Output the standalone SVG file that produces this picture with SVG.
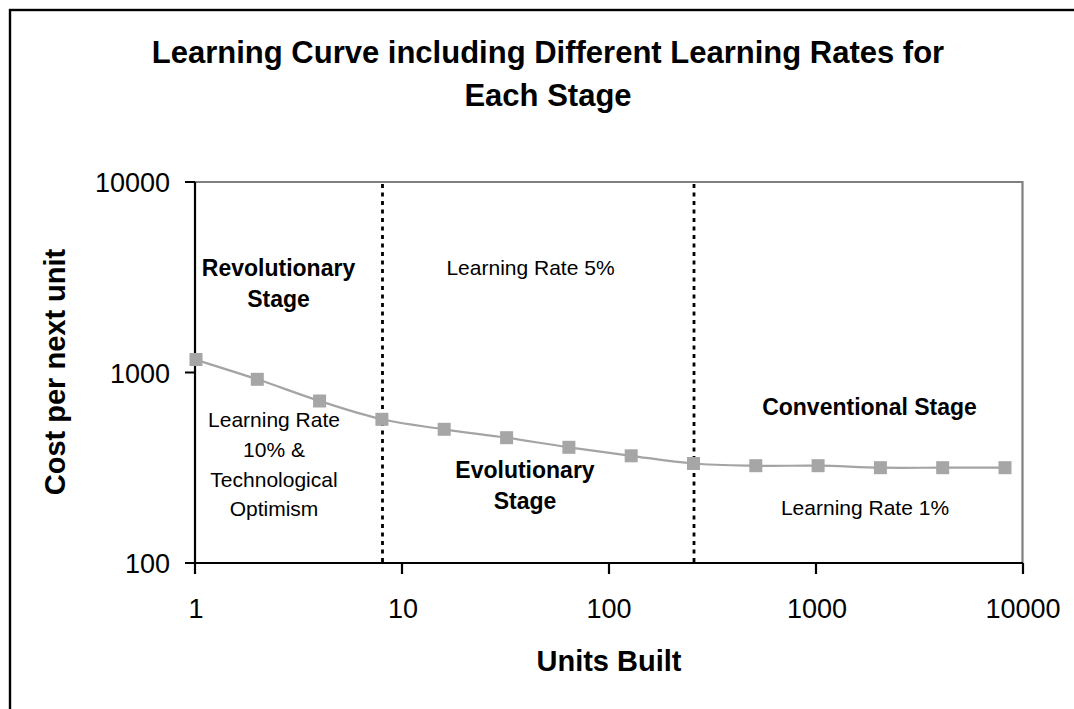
<svg xmlns="http://www.w3.org/2000/svg" width="1074" height="709" viewBox="0 0 1074 709">
  <style>
    text { font-family: "Liberation Sans", Arial, sans-serif; fill: #000; }
    .title { font-size: 31px; font-weight: bold; text-anchor: middle; }
    .axt { font-size: 29px; font-weight: bold; text-anchor: middle; }
    .tick { font-size: 27px; }
    .xt { text-anchor: middle; }
    .yt { text-anchor: end; }
    .stage { font-size: 23px; font-weight: bold; text-anchor: middle; }
    .note { font-size: 21px; text-anchor: middle; }
    .axis { stroke: #000; stroke-width: 2.2; fill: none; }
    .frame { stroke: #808080; stroke-width: 2.2; fill: none; }
    .divider { stroke: #000; stroke-width: 2.8; stroke-dasharray: 4 4.5; fill: none; }
    .series { stroke: #a4a4a4; stroke-width: 2.2; fill: none; }
    .mk { fill: #a6a6a6; }
  </style>
  <defs>
    <rect id="marker" x="-6.5" y="-6.5" width="13" height="13" class="mk"/>
  </defs>
  <rect x="0" y="0" width="1074" height="709" fill="#fff"/>
  <rect id="chart-border" x="10" y="10" width="1080" height="720" fill="#fff" stroke="#000" stroke-width="2.4"/>

  <g id="title">
    <text class="title" x="548" y="63">Learning Curve including Different Learning Rates for</text>
    <text class="title" x="548" y="106">Each Stage</text>
  </g>

  <g id="plot-area">
    <rect x="195" y="182" width="827.5" height="381" fill="#fff"/>
    <path class="frame" d="M195,182 H1022.5 V563"/>
  </g>

  <g id="dividers">
    <line class="divider" x1="382.5" y1="184" x2="382.5" y2="563"/>
    <line class="divider" x1="694" y1="184" x2="694" y2="563"/>
  </g>

  <g id="axes">
    <path class="axis" d="M195,182 V563 H1023"/>
    <path class="axis" d="M185,182 H195 M185,372.5 H195 M185,563 H195"/>
    <path class="axis" d="M195,563 V574 M402,563 V574 M609,563 V574 M816,563 V574 M1023,563 V574"/>
  </g>

  <g id="y-tick-labels" class="tick">
    <text class="tick yt" x="170" y="192">10000</text>
    <text class="tick yt" x="170" y="383">1000</text>
    <text class="tick yt" x="170" y="573">100</text>
  </g>
  <g id="x-tick-labels">
    <text class="tick xt" x="196" y="618">1</text>
    <text class="tick xt" x="403" y="618">10</text>
    <text class="tick xt" x="609" y="618">100</text>
    <text class="tick xt" x="817" y="618">1000</text>
    <text class="tick xt" x="1023" y="618">10000</text>
  </g>

  <g id="axis-titles">
    <text class="axt" x="609" y="671">Units Built</text>
    <text class="axt" transform="translate(65,372) rotate(-90)" x="0" y="0">Cost per next unit</text>
  </g>

  <g id="connectors">
    <path class="series" d="M195,359.5 C205.4,362.8 236.5,372.4 257.3,379.3 C278.1,386.2 298.8,394.3 319.6,401 C340.4,407.7 361.1,414.6 381.9,419.3 C402.7,424 423.4,426.2 444.2,429.3 C465,432.4 485.8,434.7 506.6,437.7 C527.4,440.7 548.1,444.3 568.9,447.3 C589.7,450.3 610.4,453.1 631.2,455.8 C652,458.5 672.7,461.9 693.5,463.5 C714.3,465.15 735,465.3 755.8,465.7 C776.6,466.1 797.3,465.4 818.1,465.7 C838.9,466 859.6,467.4 880.4,467.7 C901.2,468 921.9,467.7 942.7,467.7 C963.5,467.7 984.2,467.7 1005,467.7"/>
  </g>

  <g id="markers">
    <use href="#marker" x="196" y="359.5"/>
    <use href="#marker" x="257.3" y="379.3"/>
    <use href="#marker" x="319.6" y="401"/>
    <use href="#marker" x="381.9" y="419.3"/>
    <use href="#marker" x="444.2" y="429.3"/>
    <use href="#marker" x="506.6" y="437.7"/>
    <use href="#marker" x="568.9" y="447.3"/>
    <use href="#marker" x="631.2" y="455.8"/>
    <use href="#marker" x="693.5" y="463.5"/>
    <use href="#marker" x="755.8" y="465.7"/>
    <use href="#marker" x="818.1" y="465.7"/>
    <use href="#marker" x="880.4" y="467.7"/>
    <use href="#marker" x="942.7" y="467.7"/>
    <use href="#marker" x="1005" y="467.7"/>
  </g>

  <g id="revolutionary-stage">
    <text class="stage" x="278.5" y="276">Revolutionary</text>
    <text class="stage" x="278.5" y="307">Stage</text>
  </g>
  <g id="revolutionary-rate">
    <text class="note" x="274" y="427">Learning Rate</text>
    <text class="note" x="274" y="457">10% &amp;</text>
    <text class="note" x="274" y="487">Technological</text>
    <text class="note" x="274" y="516">Optimism</text>
  </g>
  <g id="evolutionary-rate">
    <text class="note" x="530.5" y="275">Learning Rate 5%</text>
  </g>
  <g id="evolutionary-stage">
    <text class="stage" x="525" y="478">Evolutionary</text>
    <text class="stage" x="525" y="509">Stage</text>
  </g>
  <g id="conventional-stage">
    <text class="stage" x="869.5" y="415">Conventional Stage</text>
  </g>
  <g id="conventional-rate">
    <text class="note" x="865" y="515">Learning Rate 1%</text>
  </g>
</svg>
